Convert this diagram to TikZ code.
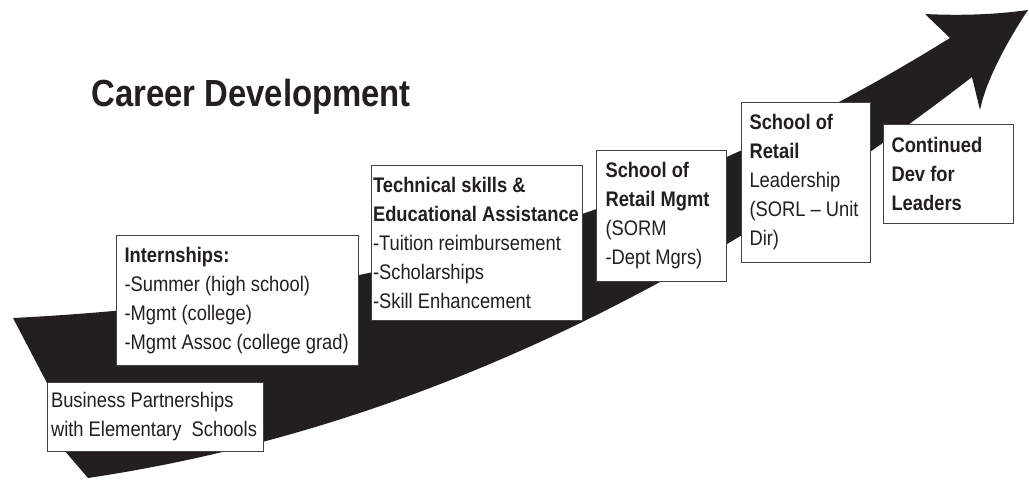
\documentclass[tikz,border=0pt]{standalone}
\usepackage{fontspec}
\setmainfont[FakeStretch=0.87]{Liberation Sans}
\usepackage{xcolor}
\definecolor{ink}{RGB}{35,31,32}

\begin{document}
\begin{tikzpicture}[
  x=0.02cm, y=-0.02cm,
  font=\fontsize{12}{16.5}\selectfont,
  stepbox/.style={draw=ink!85, line width=0.6pt, fill=white, anchor=north west,
                  align=flush left, inner ysep=2pt, text=ink},
  ttl/.style={font=\fontsize{21.5}{26}\selectfont\bfseries, text=ink,
              anchor=base west, inner sep=0pt},
]
\useasboundingbox (0,0) rectangle (1029,483);

% --- the rising arrow ---
\fill[ink] (13,318) .. controls (413,298) and (700,193) .. (950,38)
  -- (925,14) .. controls (965,16) and (1000,14) .. (1028,10)
  .. controls (1008,40) and (986,80) .. (980,110)
  -- (972,77) .. controls (677,305) and (383,434) .. (88,478)
  -- (64,450) -- (47,383) -- cycle;

% --- title ---
\node[ttl] (title) at (91,107) {Career Development};

% --- steps, from the tail up to the head ---
\node[stepbox, text width=4.18cm, inner xsep=0.07cm, minimum height=1.38cm]
  (partner) at (47,382) {Business Partnerships\\ with Elementary~ Schools};
\node[stepbox, text width=4.52cm, inner xsep=0.16cm, minimum height=2.6cm]
  (intern) at (116,235) {%
  \textbf{Internships:}\\ -Summer (high school)\\ -Mgmt (college)\\
  -Mgmt Assoc (college grad)};
\node[stepbox, text width=4.16cm, inner xsep=0.03cm, minimum height=3.1cm]
  (techskill) at (371,165) {%
  \textbf{Technical skills \&}\\ \textbf{Educational Assistance}\\
  -Tuition reimbursement\\ -Scholarships\\ -Skill Enhancement};
\node[stepbox, text width=2.24cm, inner xsep=0.18cm, minimum height=2.62cm]
  (sorm) at (596,150) {%
  \textbf{School of}\\ \textbf{Retail Mgmt}\\ (SORM\\ -Dept Mgrs)};
\node[stepbox, text width=2.26cm, inner xsep=0.16cm, minimum height=3.2cm]
  (sorl) at (741,102) {%
  \textbf{School of}\\ \textbf{Retail}\\ Leadership\\ (SORL -- Unit\\ Dir)};
\node[stepbox, text width=2.28cm, inner xsep=0.16cm, minimum height=1.98cm]
  (leaders) at (883,124) {%
  \textbf{Continued}\\ \textbf{Dev for}\\ \textbf{Leaders}};
\end{tikzpicture}
\end{document}
